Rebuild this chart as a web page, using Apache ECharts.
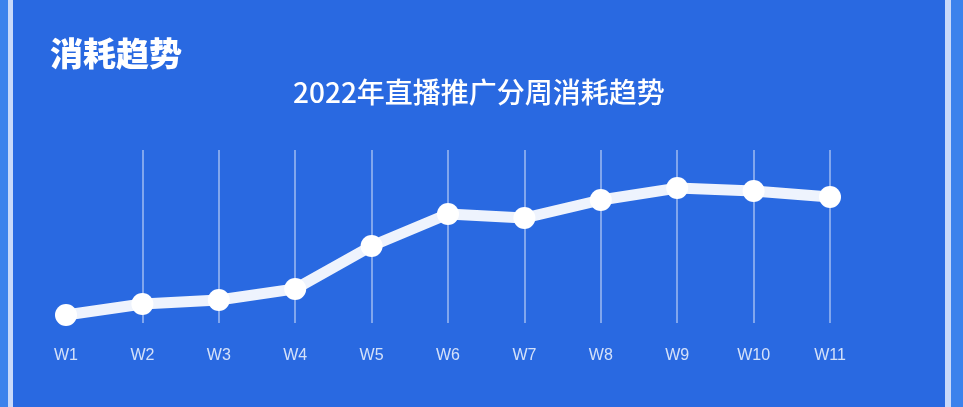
<!DOCTYPE html>
<html>
<head>
<meta charset="utf-8">
<script src="https://cdn.jsdelivr.net/npm/echarts@6/dist/echarts.min.js"></script>
<style>
    html, body { margin: 0; padding: 0; width: 963px; height: 407px; overflow: hidden; background: #3b82ec; }
    .edge { position: absolute; top: 0; bottom: 0; width: 5px; background: #c8d9fa; }
    .panel { position: absolute; left: 13px; top: 0; width: 932px; height: 407px; background: #2969e1; }
    #main { position: absolute; left: 0; top: 0; width: 963px; height: 407px; }
</style>
</head>
<body>
<div class="edge" style="left:8px"></div>
<div class="panel"></div>
<div class="edge" style="left:945px;width:6px"></div>
<div id="main"></div>
<script>
// 分周数据
var weeks = ['W1', 'W2', 'W3', 'W4', 'W5', 'W6', 'W7', 'W8', 'W9', 'W10', 'W11'];
var spendValues = [4.6, 11.0, 13.3, 19.7, 44.5, 63.0, 60.7, 71.1, 78.0, 76.3, 72.8];
var headText = '消耗趋势';
var chartTitle = '2022年直播推广分周消耗趋势';

var fontFamily = '"Noto Sans CJK SC", "Noto Sans", sans-serif';
var labelFont = '"Liberation Sans", "Noto Sans CJK SC", sans-serif';
var myChart = echarts.init(document.getElementById('main'));

var option = {
    backgroundColor: 'transparent',
    textStyle: { fontFamily: fontFamily },
    title: [{
        text: headText,
        left: 45,
        top: 32,
        textStyle: { color: '#fff', fontSize: 33, fontWeight: 900, fontFamily: fontFamily }
    }, {
        text: chartTitle,
        left: 288,
        top: 73,
        textStyle: { color: '#fff', fontSize: 28, fontWeight: 500, fontFamily: fontFamily }
    }],
    grid: { left: 66, right: 133, top: 150, bottom: 84 },
    xAxis: {
        type: 'category',
        boundaryGap: false,
        data: weeks,
        axisLine: { show: false },
        axisTick: { show: false },
        axisLabel: { color: 'rgba(255,255,255,0.8)', fontSize: 16, margin: 25, fontFamily: labelFont },
        splitLine: {
            show: true,
            showMinLine: false,
            lineStyle: { color: 'rgba(255,255,255,0.55)', width: 1.5 }
        }
    },
    yAxis: {
        type: 'value',
        min: 0,
        max: 100,
        show: false,
        splitLine: { show: false }
    },
    series: [{
        type: 'line',
        data: spendValues,
        symbol: 'circle',
        symbolSize: 22,
        lineStyle: { color: '#eef3fd', width: 11 },
        itemStyle: { color: '#ffffff' },
        z: 3
    }]
};

myChart.setOption(option);
</script>
</body>
</html>
